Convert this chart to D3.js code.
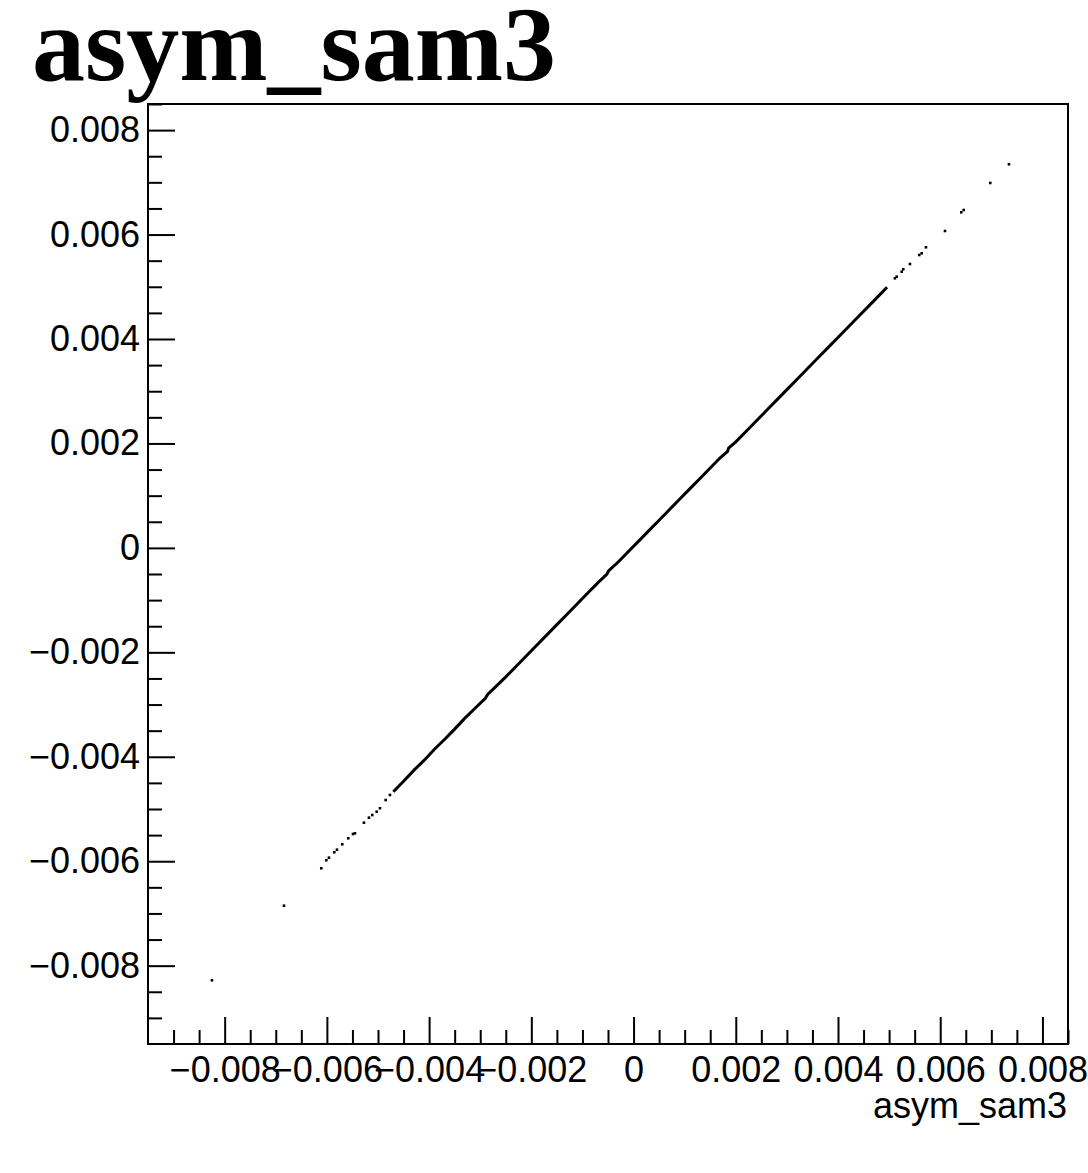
<!DOCTYPE html>
<html>
<head>
<meta charset="utf-8">
<script src="https://cdn.jsdelivr.net/npm/d3@7"></script>
<style>
  html, body { margin: 0; padding: 0; background: #fff; }
  svg { display: block; }
</style>
</head>
<body>
<svg id="chart" width="1088" height="1173"></svg>
<script>
// ---- data ----
const chartTitle = "asym_sam3";
const xAxisTitle = "asym_sam3";
const xDomain = [-0.0095, 0.0085];
const yDomain = [-0.0095, 0.0085];
const majorTicks = [-0.008, -0.006, -0.004, -0.002, 0, 0.002, 0.004, 0.006, 0.008];

// dense core of the scatter (markers overlap into a continuous band)
const denseX = [-0.00470, -0.00450, -0.00430, -0.00410, -0.00390, -0.00370, -0.00350, -0.00330, -0.00310, -0.00290,
  -0.00285, -0.00270, -0.00250, -0.00230, -0.00210, -0.00190, -0.00170, -0.00150, -0.00130, -0.00110,
  -0.00090, -0.00070, -0.00052, -0.00049, -0.00030, -0.00010, 0.00010, 0.00030, 0.00050, 0.00070,
  0.00090, 0.00110, 0.00130, 0.00150, 0.00170, 0.00184, 0.00186, 0.00200, 0.00220, 0.00240,
  0.00260, 0.00280, 0.00300, 0.00320, 0.00340, 0.00360, 0.00380, 0.00400, 0.00420, 0.00440,
  0.00460, 0.00480, 0.00496];
const denseY = [-0.00467, -0.00447, -0.00426, -0.00407, -0.00386, -0.00367, -0.00347, -0.00326, -0.00307, -0.00288,
  -0.00280, -0.00266, -0.00247, -0.00227, -0.00207, -0.00187, -0.00167, -0.00147, -0.00127, -0.00107,
  -0.00087, -0.00067, -0.00050, -0.00044, -0.00027, -0.00007, 0.00013, 0.00033, 0.00053, 0.00073,
  0.00093, 0.00113, 0.00133, 0.00153, 0.00173, 0.00185, 0.00191, 0.00203, 0.00223, 0.00243,
  0.00263, 0.00283, 0.00303, 0.00323, 0.00343, 0.00363, 0.00383, 0.00403, 0.00423, 0.00443,
  0.00463, 0.00483, 0.00499];

// isolated markers
const sparseX = [-0.008249, -0.006840, -0.006110, -0.006012, -0.005960, -0.005856, -0.005803, -0.005699,
  -0.005582, -0.005490, -0.005451, -0.005275, -0.005177, -0.005112, -0.005026, -0.004962, -0.004850, -0.004766,
  0.005114, 0.005148, 0.005246, 0.005277, 0.005408, 0.005590, 0.005637, 0.005721, 0.006093,
  0.006412, 0.006459, 0.006979, 0.007345];
const sparseY = [-0.008280, -0.006852, -0.006135, -0.005982, -0.005932, -0.005829, -0.005779, -0.005676,
  -0.005561, -0.005479, -0.005465, -0.005262, -0.005166, -0.005115, -0.005052, -0.004986, -0.004828, -0.004731,
  0.005163, 0.005193, 0.005289, 0.005335, 0.005436, 0.005609, 0.005641, 0.005756, 0.006068,
  0.006426, 0.006470, 0.006988, 0.007346];

// ---- layout ----
const frame = { left: 148, right: 1068, top: 104, bottom: 1044 };
const svg = d3.select("#chart");

const x = d3.scaleLinear().domain(xDomain).range([frame.left, frame.right]);
const y = d3.scaleLinear().domain(yDomain).range([frame.bottom, frame.top]);

const minorTicks = d3.range(-0.009, 0.00851, 0.0005)
  .map(v => Math.round(v * 1e5) / 1e5)
  .filter(v => !majorTicks.some(m => Math.abs(m - v) < 1e-9));

const fmt = v => Math.abs(v) < 1e-12 ? "0" : (v < 0 ? "\u2212" : "") + Math.abs(v).toFixed(3);
const labelFont = "'Liberation Sans', Arial, Helvetica, sans-serif";

// title
svg.append("text")
  .attr("x", 32).attr("y", 80)
  .attr("font-family", "'Liberation Serif', 'Times New Roman', serif")
  .attr("font-weight", "bold")
  .attr("font-size", 106)
  .attr("fill", "#000")
  .text(chartTitle);

// data
const pts = denseX.map((v, i) => [v, denseY[i]]);
svg.append("path")
  .datum(pts)
  .attr("d", d3.line().x(d => x(d[0])).y(d => y(d[1])))
  .attr("fill", "none")
  .attr("stroke", "#000")
  .attr("stroke-width", 3);

const sp = sparseX.map((v, i) => [v, sparseY[i]]);
svg.append("g").selectAll("rect")
  .data(sp)
  .join("rect")
  .attr("x", d => x(d[0]) - 1.3)
  .attr("y", d => y(d[1]) - 1.3)
  .attr("width", 2.6)
  .attr("height", 2.6)
  .attr("fill", "#000");

// axes (ticks point inward, ROOT style)
const xMajor = d3.axisBottom(x).tickValues(majorTicks).tickSize(-27).tickPadding(12).tickFormat(fmt);
const xMinor = d3.axisBottom(x).tickValues(minorTicks).tickSize(-14).tickFormat("");
const yMajor = d3.axisLeft(y).tickValues(majorTicks).tickSize(-27).tickPadding(8).tickFormat(fmt);
const yMinor = d3.axisLeft(y).tickValues(minorTicks).tickSize(-14).tickFormat("");

function style(g) {
  g.select(".domain").remove();
  g.selectAll("line").attr("stroke", "#000").attr("stroke-width", 2);
  g.selectAll("text").attr("font-family", labelFont).attr("font-size", 36).attr("fill", "#000");
}

svg.append("g").attr("transform", `translate(0,${frame.bottom})`).call(xMinor).call(style);
svg.append("g").attr("transform", `translate(0,${frame.bottom})`).call(xMajor).call(style)
  .selectAll("text").attr("dy", "0.71em");
svg.append("g").attr("transform", `translate(${frame.left},0)`).call(yMinor).call(style);
svg.append("g").attr("transform", `translate(${frame.left},0)`).call(yMajor).call(style);

// frame
svg.append("rect")
  .attr("x", frame.left).attr("y", frame.top)
  .attr("width", frame.right - frame.left)
  .attr("height", frame.bottom - frame.top)
  .attr("fill", "none")
  .attr("stroke", "#000")
  .attr("stroke-width", 2);

// x axis title
svg.append("text")
  .attr("x", 1067).attr("y", 1118)
  .attr("text-anchor", "end")
  .attr("font-family", labelFont)
  .attr("font-size", 36)
  .attr("fill", "#000")
  .text(xAxisTitle);
</script>
</body>
</html>
